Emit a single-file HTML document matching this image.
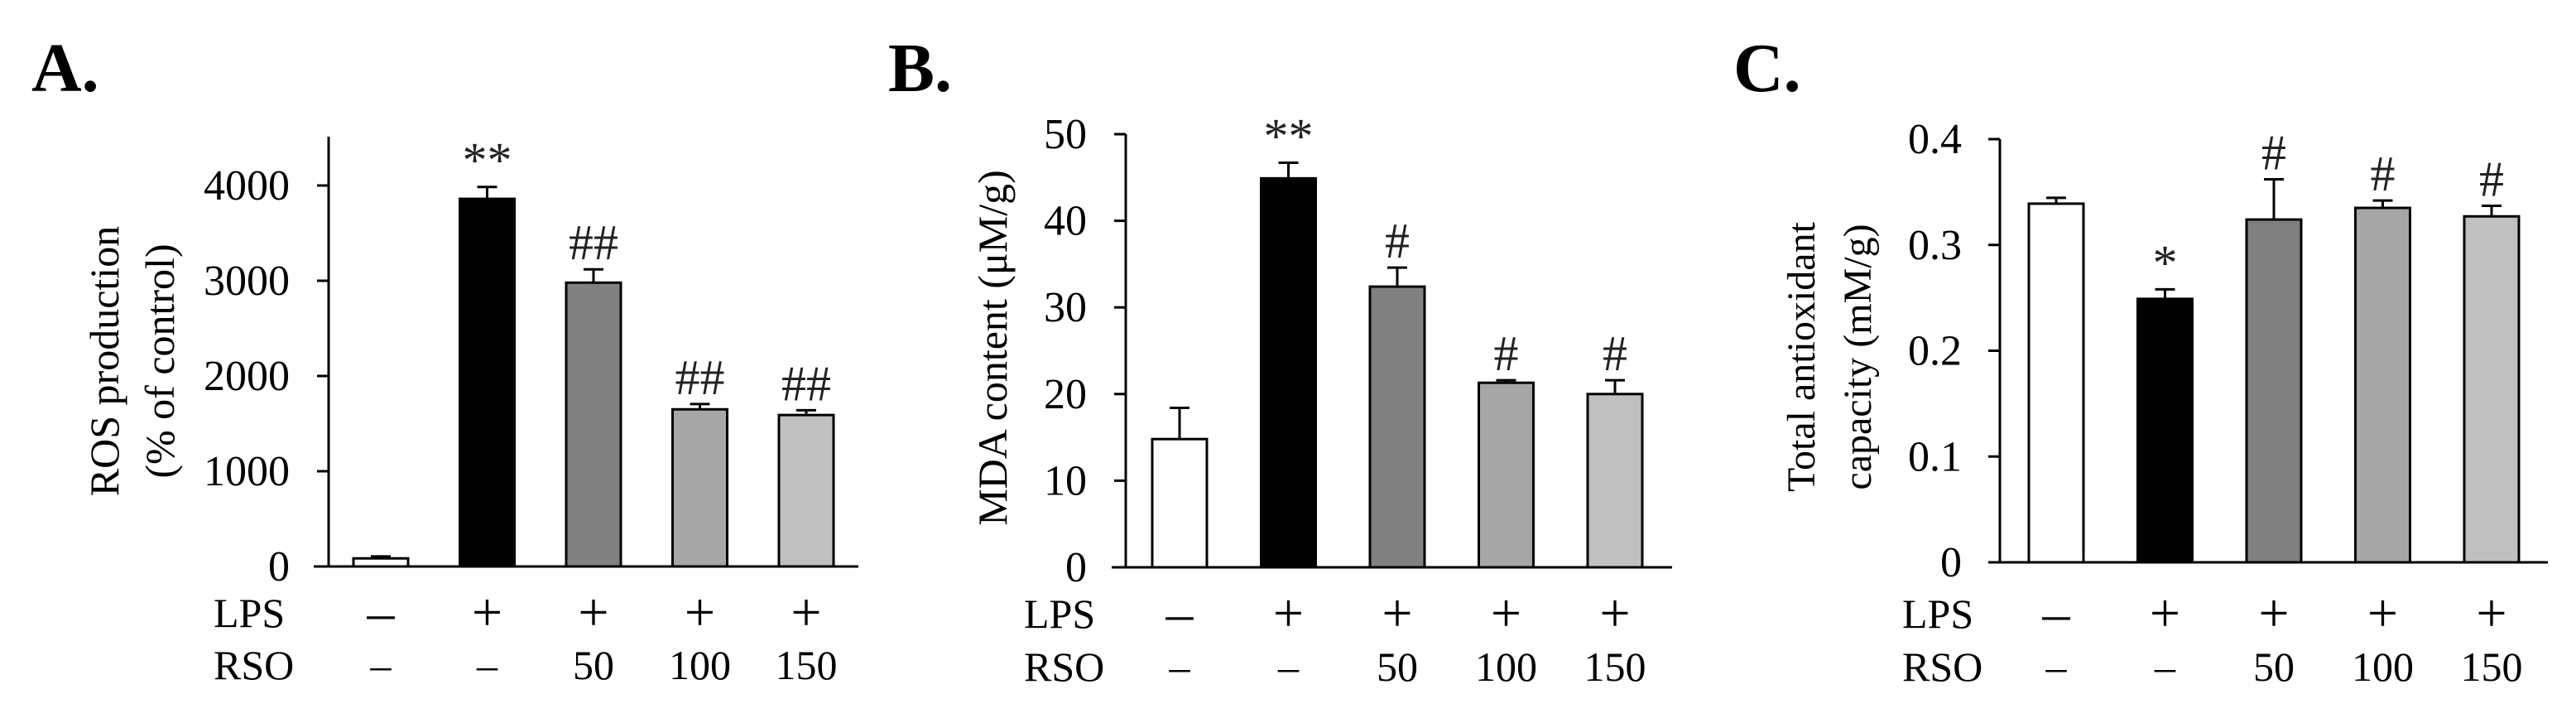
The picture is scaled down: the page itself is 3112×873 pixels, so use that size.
<!DOCTYPE html>
<html><head><meta charset="utf-8"><style>
html,body{margin:0;padding:0;background:#fff;}
svg{display:block;font-family:"Liberation Serif",serif;}
</style></head><body>
<svg id="fig" width="3112" height="873" viewBox="0 0 3112 873" xmlns="http://www.w3.org/2000/svg"></svg>
<script>
const categories = ["control","LPS","LPS+RSO50","LPS+RSO100","LPS+RSO150"];
const lpsLabels = ["–","+","+","+","+"];
const rsoLabels = ["–","–","50","100","150"];
const fills = ["#ffffff","#000000","#808080","#a6a6a6","#c0c0c0"];

const rosValues = [85, 3860, 2980, 1650, 1590];
const rosErrors = [20, 125, 140, 55, 50];
const rosMarks = ["", "**", "##", "##", "##"];
const rosTicks = [0, 1000, 2000, 3000, 4000];

const mdaValues = [14.8, 44.9, 32.4, 21.3, 20.0];
const mdaErrors = [3.6, 1.8, 2.2, 0.3, 1.6];
const mdaMarks = ["", "**", "#", "#", "#"];
const mdaTicks = [0, 10, 20, 30, 40, 50];

const taoValues = [0.339, 0.249, 0.324, 0.335, 0.327];
const taoErrors = [0.0055, 0.009, 0.038, 0.007, 0.010];
const taoMarks = ["", "*", "#", "#", "#"];
const taoTicks = ["0", "0.1", "0.2", "0.3", "0.4"];
const taoTickVals = [0, 0.1, 0.2, 0.3, 0.4];

const svg = document.getElementById('fig');
const NS = "http://www.w3.org/2000/svg";
function mk(tag, attrs, parent, text){
  const e = document.createElementNS(NS, tag);
  for (const k in attrs) e.setAttribute(k, attrs[k]);
  if (text !== undefined) e.textContent = text;
  (parent || svg).appendChild(e);
  return e;
}

function panel(p){
  const g = mk('g', {});
  
  
  const y = v => p.y0 - (v - 0) / p.max * (p.y0 - p.yTop);
  const t = mk('text', {x:p.titleX, y:110, 'font-size':84, 'font-weight':'bold'}, g, p.title);
  
  
  const ax = mk('line', {x1:p.axX, y1:p.axTop, x2:p.axX, y2:p.y0, stroke:'#000','stroke-width':3}, g);
  
  
  const bx = mk('line', {x1:p.baseL, y1:p.y0, x2:p.baseR, y2:p.y0, stroke:'#000','stroke-width':3}, g);
  
  
  p.tickVals.forEach((v,i)=>{
    const yy = y(v);
    const tk = mk('line', {x1:p.axX-14, y1:yy, x2:p.axX, y2:yy, stroke:'#000','stroke-width':3}, g);
    
    
    const tl = mk('text', {x:p.tickRight, y:yy+17, 'font-size':52, 'text-anchor':'end'}, g, p.tickLabels[i]);
    
    
  });
  p.yTitle.forEach((line,i)=>{
    const tx = p.yTitleX[i];
    const tt = mk('text', {x:tx, y:p.yTitleY, 'font-size':p.yTitleSize, 'text-anchor':'middle', transform:`rotate(-90 ${tx} ${p.yTitleY})`, 'xml:space':'preserve'}, g, line);
    
    
  });
  p.values.forEach((v,i)=>{
    const cx = p.firstCenter + i*p.step;
    const top = y(v), etop = y(v + p.errors[i]);
    const el = mk('line', {x1:cx, y1:top, x2:cx, y2:etop, stroke:'#000','stroke-width':3}, g);
    
    
    const cap = mk('line', {x1:cx-12, y1:etop, x2:cx+12, y2:etop, stroke:'#000','stroke-width':3}, g);
    
    
    const r = mk('rect', {x:cx-p.bw/2, y:top, width:p.bw, height:p.y0-top, fill:fills[i], stroke:'#000','stroke-width':3}, g);
    
    
    if (p.marks[i]) {
      const m = mk('text', {x:cx, y:etop-12, 'font-size':60, 'text-anchor':'middle', fill:'#222'}, g, p.marks[i]);
      
      
    }
    const l1 = mk('text', {x:cx, y:p.lpsY+4, 'font-size':66, 'text-anchor':'middle'}, g, lpsLabels[i]);
    
    
    const l2 = mk('text', {x:cx, y:p.rsoY, 'font-size':50, 'text-anchor':'middle'}, g, rsoLabels[i]);
    
    
  });
  const a = mk('text', {x:p.rowX, y:p.lpsY, 'font-size':50}, g, 'LPS');
  
  
  const b = mk('text', {x:p.rowX, y:p.rsoY, 'font-size':50}, g, 'RSO');
  
  
}

panel({name:'panel-a-ros', title:'A.', titleX:38, axX:397, axTop:165, y0:684, yTop:224, max:4000,
  baseL:379, baseR:1037, tickVals:rosTicks, tickLabels:rosTicks.map(String), tickRight:350,
  yTitle:['ROS production','(% of control)'], yTitleX:[143,210], yTitleY:436, yTitleSize:50,
  values:rosValues, errors:rosErrors, marks:rosMarks, firstCenter:460, step:128.5, bw:66,
  lpsY:757, rsoY:820, rowX:258});

panel({name:'panel-b-mda', title:'B.', titleX:1073, axX:1360, axTop:162, y0:685, yTop:162, max:50,
  baseL:1343, baseR:2020, tickVals:mdaTicks, tickLabels:mdaTicks.map(String), tickRight:1313,
  yTitle:['MDA content  (μM/g)'], yTitleX:[1216], yTitleY:420, yTitleSize:50,
  values:mdaValues, errors:mdaErrors, marks:mdaMarks, firstCenter:1425, step:131.5, bw:66,
  lpsY:758, rsoY:822, rowX:1237});

panel({name:'panel-c-tac', title:'C.', titleX:2094, axX:2416, axTop:168, y0:679, yTop:168, max:0.4,
  baseL:2404, baseR:3078, tickVals:taoTickVals, tickLabels:taoTicks, tickRight:2370,
  yTitle:['Total  antioxidant','capacity  (mM/g)'], yTitleX:[2192,2260], yTitleY:431, yTitleSize:48,
  values:taoValues, errors:taoErrors, marks:taoMarks, firstCenter:2484, step:131.5, bw:66,
  lpsY:758, rsoY:822, rowX:2298});
</script>
</body></html>
